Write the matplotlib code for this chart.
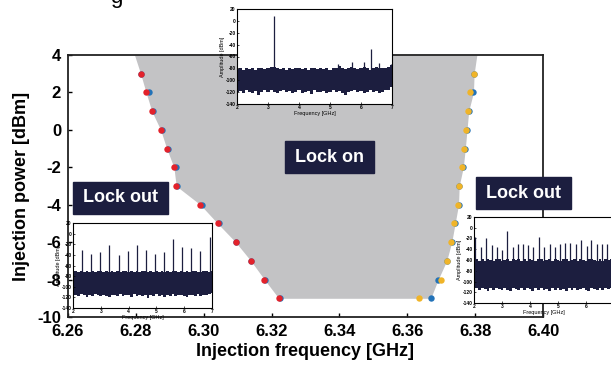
import matplotlib.pyplot as plt
from matplotlib.patches import Rectangle

plt.rcParams['font.family'] = ['Liberation Sans', 'DejaVu Sans']
plt.rcParams['font.weight'] = 'bold'
plt.rcParams['axes.unicode_minus'] = False

W, H = 611, 367

# injection power levels [dBm] and lock edges [GHz]
levels = [3, 2, 1, 0, -1, -2, -3, -4, -5, -6, -7, -8, -9]
f_low_red = [6.2814, 6.2830, 6.2847, 6.2873, 6.2891, 6.2912, 6.2919,
             6.2990, 6.3041, 6.3094, 6.3139, 6.3179, 6.3221]
f_low_blue = [6.2814, 6.2840, 6.2850, 6.2876, 6.2894, 6.2918, 6.2920,
              6.2994, 6.3045, 6.3095, 6.3140, 6.3182, 6.3225]
f_high_orange = [6.3797, 6.3786, 6.3778, 6.3773, 6.3767, 6.3761, 6.3753,
                 6.3750, 6.3737, 6.3729, 6.3716, 6.3699, 6.3635]
f_high_blue = [6.3797, 6.3795, 6.3781, 6.3776, 6.3771, 6.3765, 6.3753,
               6.3751, 6.3741, 6.3731, 6.3716, 6.3691, 6.3669]
# where the lock region leaves the plot at the top
top_level = 4
top_low, top_high = 6.2796, 6.3805

xticks = [6.26, 6.28, 6.30, 6.32, 6.34, 6.36, 6.38, 6.40]
yticks = [-10, -8, -6, -4, -2, 0, 2, 4]

# spectra for the insets, noise band edges read every 0.1 GHz
noise_f = [2.0, 2.1, 2.2, 2.3, 2.4, 2.5, 2.6, 2.7, 2.8, 2.9,
           3.0, 3.1, 3.2, 3.3, 3.4, 3.5, 3.6, 3.7, 3.8, 3.9,
           4.0, 4.1, 4.2, 4.3, 4.4, 4.5, 4.6, 4.7, 4.8, 4.9,
           5.0, 5.1, 5.2, 5.3, 5.4, 5.5, 5.6, 5.7, 5.8, 5.9,
           6.0, 6.1, 6.2, 6.3, 6.4, 6.5, 6.6, 6.7, 6.8, 6.9,
           7.0]

lockon_up = [-81, -80, -82, -79, -81, -80, -82, -80, -79, -81,
             -80, -78, -77, -80, -81, -79, -82, -80, -81, -80,
             -79, -81, -80, -82, -80, -79, -81, -80, -81, -80,
             -82, -79, -80, -76, -80, -81, -79, -78, -80, -81,
             -80, -78, -80, -82, -79, -78, -80, -79, -80, -77,
             -75]
lockon_lo = [-120, -118, -122, -117, -119, -121, -118, -124, -119, -117,
             -120, -116, -119, -121, -118, -117, -120, -118, -122, -119,
             -117, -121, -119, -118, -123, -117, -120, -119, -118, -121,
             -119, -117, -120, -118, -121, -124, -119, -118, -117, -120,
             -118, -121, -119, -117, -120, -118, -122, -119, -117, -116,
             -112]
lockon_pk_f = [3.20, 5.26, 5.71, 6.11, 6.33, 6.57, 6.97]
lockon_pk_a = [8, -72, -69, -70, -47, -71, -72]

left_up = [-72, -70, -73, -71, -72, -70, -73, -71, -72, -70,
           -71, -73, -70, -72, -71, -73, -70, -72, -71, -70,
           -72, -71, -73, -70, -72, -71, -70, -73, -71, -72,
           -70, -72, -71, -73, -70, -72, -71, -70, -72, -71,
           -73, -70, -72, -71, -70, -72, -73, -71, -70, -72,
           -70]
left_lo = [-117, -115, -118, -114, -116, -119, -115, -117, -114, -116,
           -118, -115, -117, -120, -115, -116, -118, -114, -117, -115,
           -116, -119, -114, -117, -115, -118, -116, -121, -115, -117,
           -114, -117, -116, -119, -115, -117, -114, -118, -116, -115,
           -117, -120, -115, -116, -118, -114, -117, -115, -116, -113,
           -112]
left_pk_f = [2.32, 2.64, 2.98, 3.31, 3.64, 3.97, 4.31, 4.62, 4.95, 5.28,
             5.61, 5.92, 6.26, 6.58, 6.93]
left_pk_a = [-30, -38, -35, -21, -41, -33, -21, -30, -38, -34,
             -10, -25, -27, -33, -6]

right_up = [-60, -58, -61, -59, -62, -58, -60, -61, -59, -58,
            -61, -60, -58, -62, -59, -60, -58, -61, -59, -62,
            -58, -60, -61, -59, -58, -62, -60, -59, -61, -58,
            -60, -62, -59, -58, -61, -60, -59, -62, -58, -60,
            -61, -59, -58, -60, -62, -59, -61, -58, -60, -59,
            -60]
right_lo = [-115, -113, -116, -112, -114, -117, -113, -115, -112, -114,
            -116, -113, -115, -118, -113, -114, -116, -112, -115, -113,
            -114, -117, -112, -115, -113, -116, -114, -118, -113, -115,
            -112, -115, -114, -117, -113, -115, -112, -116, -114, -113,
            -115, -118, -113, -114, -116, -112, -115, -113, -114, -113,
            -112]
right_pk_f = [2.05, 2.25, 2.43, 2.63, 2.81, 2.99, 3.18, 3.38, 3.56, 3.74,
              3.94, 4.12, 4.32, 4.50, 4.70, 4.89, 5.07, 5.25, 5.43, 5.64,
              5.82, 6.02, 6.18, 6.38, 6.56, 6.76]
right_pk_a = [-18, -36, -20, -33, -36, -42, -6, -36, -31, -31,
              -33, -35, -18, -35, -31, -35, -30, -28, -28, -31,
              -23, -34, -23, -31, -30, -31]

navy = '#1c1e3f'
gray = '#c3c3c5'


def px_rect(x0, y0, x1, y1):
    return [x0 / W, 1 - y1 / H, (x1 - x0) / W, (y1 - y0) / H]


fig = plt.figure(figsize=(W / 100, H / 100), dpi=100)
ax = fig.add_axes(px_rect(68, 55, 543, 317))

ax.fill_betweenx([top_level] + levels, [top_low] + f_low_red,
                 [top_high] + f_high_blue, color=gray, lw=0, zorder=1)
ax.plot(f_low_blue, levels, 'o', color='#2272b8', ms=4.6, mew=0, zorder=3)
ax.plot(f_high_blue, levels, 'o', color='#2272b8', ms=4.6, mew=0, zorder=3)
ax.plot(f_low_red, levels, 'o', color='#e3222b', ms=4.6, mew=0, zorder=4)
ax.plot(f_high_orange, levels, 'o', color='#f0b428', ms=4.6, mew=0, zorder=4)

ax.set_xlim(6.26, 6.40)
ax.set_ylim(-10, 4)
ax.set_xticks(xticks)
ax.set_xticklabels(['%.2f' % v for v in xticks])
ax.set_yticks(yticks)
ax.tick_params(direction='in', length=3, width=1, labelsize=12, pad=5)
for s in ax.spines.values():
    s.set_linewidth(1.3)
    s.set_color('#222222')
ax.set_xlabel('Injection frequency [GHz]', fontsize=13, fontweight='bold', labelpad=3)
ax.set_ylabel('Injection power [dBm]', fontsize=13, fontweight='bold', labelpad=5)


def spectrum(rect, up, lo, pk_f, pk_a):
    a = fig.add_axes(rect)
    a.fill_between(noise_f, lo, up, step='mid', color=navy, lw=0)
    a.vlines(pk_f, -90, pk_a, color=navy, lw=0.9)
    a.set_xlim(2, 7)
    a.set_ylim(-140, 20)
    a.set_xticks([2, 3, 4, 5, 6, 7])
    a.set_yticks([-140, -120, -100, -80, -60, -40, -20, 0, 20])
    a.tick_params(direction='in', length=1.5, width=0.5, labelsize=3.5, pad=1)
    a.set_xlabel('Frequency [GHz]', fontsize=4, labelpad=0.5)
    a.set_ylabel('Amplitude [dBm]', fontsize=4, labelpad=0.5)
    for s in a.spines.values():
        s.set_linewidth(0.8)
    return a


spectrum(px_rect(237, 9, 392, 104), lockon_up, lockon_lo, lockon_pk_f, lockon_pk_a)
spectrum(px_rect(73, 223, 212, 308), left_up, left_lo, left_pk_f, left_pk_a)
spectrum(px_rect(474, 217, 614, 303), right_up, right_lo, right_pk_f, right_pk_a)


def label_box(x0, y0, x1, y1, text):
    fig.add_artist(Rectangle((x0 / W, 1 - y1 / H), (x1 - x0) / W, (y1 - y0) / H,
                             transform=fig.transFigure, color=navy, zorder=5))
    fig.text((x0 + x1) / 2 / W, 1 - (y0 + y1) / 2 / H, text, color='white',
             fontsize=13, fontweight='bold', ha='center', va='center', zorder=6)


label_box(285, 141, 374, 173, 'Lock on')
label_box(73, 182, 168, 214, 'Lock out')
label_box(476, 177, 571, 209, 'Lock out')

# tail of the caption line above the figure
fig.text(116 / W, 1 - 3 / H, 'g', fontsize=16, fontweight='normal',
         ha='center', va='baseline')

fig.savefig('out.png', dpi=100)
